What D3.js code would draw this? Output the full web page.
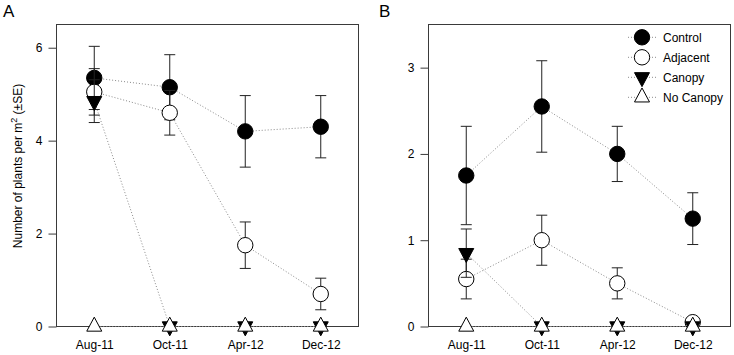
<!DOCTYPE html>
<html>
<head>
<meta charset="utf-8">
<script src="https://cdn.jsdelivr.net/npm/d3@7"></script>
<style>
  html, body { margin: 0; padding: 0; background: #fff; }
  svg { display: block; font-family: "Liberation Sans", Arial, sans-serif; }
</style>
</head>
<body>
<svg id="chart" width="734" height="355"></svg>
<script>
// ---- data ----
const months = ["Aug-11", "Oct-11", "Apr-12", "Dec-12"];
const seriesNames = ["Control", "Adjacent", "Canopy", "No Canopy"];

// Panel A
const controlA    = [5.35, 5.15, 4.20, 4.30];
const controlA_SE = [0.68, 0.70, 0.77, 0.67];
const adjacentA    = [5.05, 4.60, 1.75, 0.70];
const adjacentA_SE = [0.50, 0.48, 0.50, 0.34];
const canopyA    = [4.85, 0, 0, 0];
const canopyA_SE = [0.46, 0, 0, 0];
const noCanopyA    = [0, 0, 0, 0];
const noCanopyA_SE = [0, 0, 0, 0];
const yTicksA = [0, 2, 4, 6];

// Panel B
const controlB    = [1.75, 2.55, 2.00, 1.25];
const controlB_SE = [0.57, 0.53, 0.32, 0.30];
const adjacentB    = [0.55, 1.00, 0.50, 0.05];
const adjacentB_SE = [0.23, 0.29, 0.18, 0];
const canopyB    = [0.85, 0, 0, 0];
const canopyB_SE = [0.28, 0, 0, 0];
const noCanopyB    = [0, 0, 0, 0];
const noCanopyB_SE = [0, 0, 0, 0];
const yTicksB = [0, 1, 2, 3];

// ---- drawing ----
const svg = d3.select("#chart");
const markerKinds = ["circleFilled", "circleOpen", "triDown", "triUp"];

function markerPath(kind) {
  const hw = 7.5, h = 14;
  if (kind === "triUp") return `M0,${-2*h/3}L${hw},${h/3}L${-hw},${h/3}Z`;
  if (kind === "triDown") return `M0,${2*h/3}L${hw},${-h/3}L${-hw},${-h/3}Z`;
  return null;
}
function drawMarker(g, kind, cx, cy) {
  if (kind === "circleFilled" || kind === "circleOpen") {
    g.append("circle").attr("cx", cx).attr("cy", cy).attr("r", 7.7)
      .attr("fill", kind === "circleFilled" ? "#000" : "#fff")
      .attr("stroke", "#000").attr("stroke-width", 1);
  } else {
    g.append("path").attr("d", markerPath(kind))
      .attr("transform", `translate(${cx},${cy})`)
      .attr("fill", kind === "triDown" ? "#000" : "#fff")
      .attr("stroke", "#000").attr("stroke-width", 1);
  }
}

function panel(opts) {
  const { x0, x1, y0, y1, yMax, yTicks, series, letter, letterX, legend } = opts;
  const g = svg.append("g");
  const x = d3.scalePoint().domain(months).range([x0, x1]).padding(0.5);
  const y = d3.scaleLinear().domain([0, yMax]).range([y1, y0]);

  // frame
  g.append("rect").attr("x", x0).attr("y", y0).attr("width", x1 - x0).attr("height", y1 - y0)
    .attr("fill", "none").attr("stroke", "#3a3a3a").attr("stroke-width", 1);

  // y axis
  const ya = g.append("g").attr("transform", `translate(${x0},0)`)
    .call(d3.axisLeft(y).tickValues(yTicks).tickSize(8).tickPadding(6).tickFormat(d3.format("d")));
  ya.select(".domain").remove();
  ya.selectAll("line").attr("stroke", "#3a3a3a");
  ya.selectAll("text").attr("font-size", 12).attr("fill", "#000")
    .attr("font-family", "Liberation Sans, Arial, sans-serif");

  // x axis
  const xa = g.append("g").attr("transform", `translate(0,${y1})`)
    .call(d3.axisBottom(x).tickSize(0).tickPadding(14));
  xa.select(".domain").remove();
  xa.selectAll("text").attr("font-size", 12).attr("fill", "#000")
    .attr("font-family", "Liberation Sans, Arial, sans-serif");

  // dotted lines
  const line = d3.line().x((d, i) => x(months[i])).y(d => y(d));
  series.forEach(s => {
    g.append("path").datum(s.values).attr("d", line)
      .attr("fill", "none").attr("stroke", "#8a8a8a").attr("stroke-width", 1)
      .attr("stroke-dasharray", "1,2");
  });

  // error bars + markers per series
  series.forEach((s, si) => {
    const sg = g.append("g");
    s.values.forEach((v, i) => {
      const se = s.se[i];
      const cx = x(months[i]);
      if (se > 0) {
        const top = y(v + se), bot = y(v - se);
        sg.append("line").attr("x1", cx).attr("x2", cx).attr("y1", top).attr("y2", bot)
          .attr("stroke", "#222").attr("stroke-width", 1);
        [top, bot].forEach(yy => {
          sg.append("line").attr("x1", cx - 5.5).attr("x2", cx + 5.5).attr("y1", yy).attr("y2", yy)
            .attr("stroke", "#222").attr("stroke-width", 1);
        });
      }
    });
    s.values.forEach((v, i) => drawMarker(sg, markerKinds[si], x(months[i]), y(v)));
  });

  // panel letter
  svg.append("text").attr("x", letterX).attr("y", 17).attr("font-size", 17)
    .attr("fill", "#000").text(letter);

  if (legend) {
    const lx = 642, ly0 = 37.3, step = 20;
    seriesNames.forEach((name, i) => {
      const yy = ly0 + i * step;
      g.append("line").attr("x1", 628).attr("x2", 656).attr("y1", yy).attr("y2", yy)
        .attr("stroke", "#8a8a8a").attr("stroke-dasharray", "1,2");
      drawMarker(g, markerKinds[i], lx, yy);
      g.append("text").attr("x", 663).attr("y", yy).attr("dy", "0.35em")
        .attr("font-size", 12).attr("fill", "#000").text(name);
    });
  }
  return g;
}

panel({
  x0: 56.5, x1: 358.5, y0: 24.5, y1: 326.5, yMax: 6.5, yTicks: yTicksA,
  letter: "A", letterX: 3, legend: false,
  series: [
    { values: controlA, se: controlA_SE },
    { values: adjacentA, se: adjacentA_SE },
    { values: canopyA, se: canopyA_SE },
    { values: noCanopyA, se: noCanopyA_SE }
  ]
});

panel({
  x0: 428.5, x1: 730.5, y0: 24.5, y1: 326.5, yMax: 3.5, yTicks: yTicksB,
  letter: "B", letterX: 379, legend: true,
  series: [
    { values: controlB, se: controlB_SE },
    { values: adjacentB, se: adjacentB_SE },
    { values: canopyB, se: canopyB_SE },
    { values: noCanopyB, se: noCanopyB_SE }
  ]
});

// y axis title (panel A)
const title = svg.append("text")
  .attr("transform", "translate(22,166) rotate(-90)")
  .attr("text-anchor", "middle").attr("font-size", 12).attr("fill", "#000");
title.append("tspan").text("Number of plants per m");
title.append("tspan").attr("font-size", 9).attr("dy", -5).text("2");
title.append("tspan").attr("dy", 5).text(" (±SE)");
</script>
</body>
</html>
